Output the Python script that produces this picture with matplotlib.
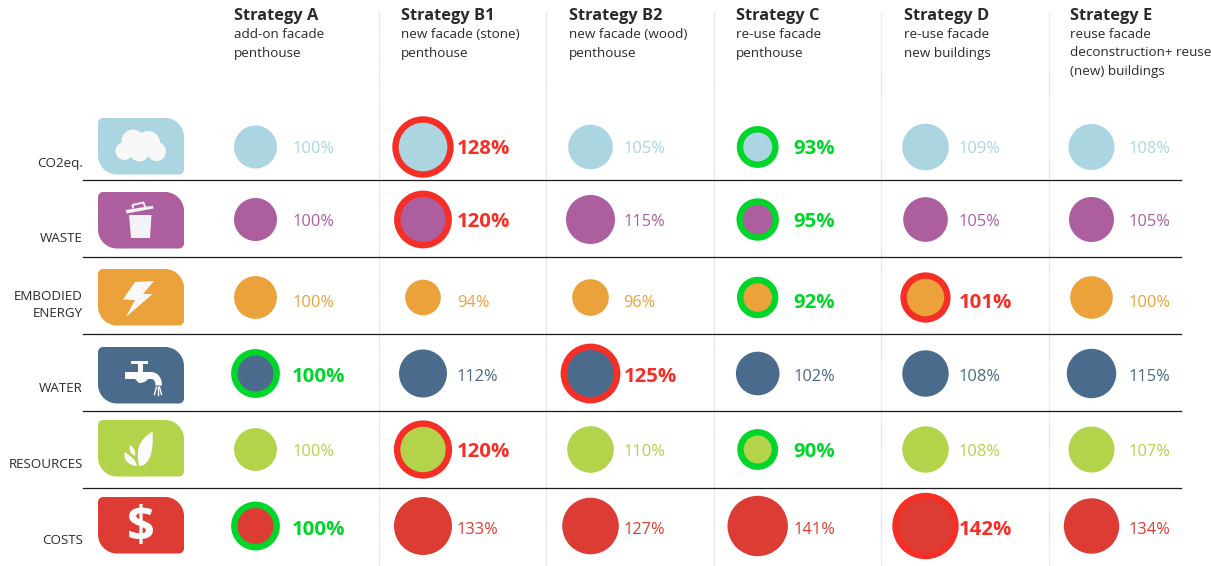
import matplotlib
matplotlib.use('Agg')
import matplotlib.pyplot as plt
from matplotlib.patches import Circle, Ellipse, PathPatch, Polygon, Rectangle
from matplotlib.path import Path

plt.rcParams['font.family'] = ['Open Sans', 'DejaVu Sans']

# data
strategies = ['Strategy A', 'Strategy B1', 'Strategy B2', 'Strategy C', 'Strategy D', 'Strategy E']
subtitles = [
    ['add-on facade', 'penthouse'],
    ['new facade (stone)', 'penthouse'],
    ['new facade (wood)', 'penthouse'],
    ['re-use facade', 'penthouse'],
    ['re-use facade', 'new buildings'],
    ['reuse facade', 'deconstruction+ reuse', '(new) buildings'],
]
categories = ['CO2eq.', 'WASTE', 'EMBODIED\nENERGY', 'WATER', 'RESOURCES', 'COSTS']
co2 = [100, 128, 105, 93, 109, 108]
waste = [100, 120, 115, 95, 105, 105]
energy = [100, 94, 96, 92, 101, 100]
water = [100, 112, 125, 102, 108, 115]
resources = [100, 120, 110, 90, 108, 107]
costs = [100, 133, 127, 141, 142, 134]
values = [co2, waste, energy, water, resources, costs]
# best / worst flag in each row
best = [3, 3, 3, 0, 3, 0]
worst = [1, 1, 4, 2, 1, 4]

# layout, in reference pixels
col_x = [255.5, 423, 590.5, 757.7, 925.5, 1091.5]
head_x = [234, 401.2, 569, 736, 904, 1070.5]
text_x = [292, 456.8, 623.3, 793, 958.7, 1128.7]
row_y = [147, 219.5, 297.5, 373.5, 449.5, 526]
text_y = [149, 222, 303, 377, 452, 530]
label_y = [163, 238, 305, 389, 464, 540]
icon_top = [118, 192, 269, 347, 420, 497]
sep_y = [180, 257, 334, 411, 488]
div_x = [379, 546, 714, 881, 1049]
radii = [
    [21.5, 24.3, 22.3, 14.5, 23.3, 23],
    [21.5, 22.5, 24.5, 14.8, 22.3, 22.5],
    [21.4, 17.8, 18.3, 14.3, 18.7, 21.3],
    [18, 24, 23.5, 21.8, 23.2, 24.7],
    [21.4, 22.7, 23.3, 14, 23.2, 23],
    [18, 29, 28.3, 30.2, 26.8, 27.7],
]
colors = ['#acd5e2', '#ad5e9f', '#eba23b', '#4b6b8c', '#b2d34a', '#dc3c33']
red = '#f52f26'
green = '#00d62a'
dark = '#2b2a2c'

fig = plt.figure(figsize=(12.11, 5.66), dpi=100)
ax = fig.add_axes([0, 0, 1, 1])
ax.set_xlim(0, 1211)
ax.set_ylim(566, 0)
ax.axis('off')


def icon_box(x0, y0, color, w=86, h=56.5, big=19, small=5):
    k = 0.45
    x1, y1 = x0 + w, y0 + h
    verts = [
        (x0 + small, y0),
        (x1 - big, y0), (x1 - big * k, y0), (x1, y0 + big * k), (x1, y0 + big),
        (x1, y1 - small), (x1, y1 - small * k), (x1 - small * k, y1), (x1 - small, y1),
        (x0 + big, y1), (x0 + big * k, y1), (x0, y1 - big * k), (x0, y1 - big),
        (x0, y0 + small), (x0, y0 + small * k), (x0 + small * k, y0), (x0 + small, y0),
    ]
    L, C = Path.LINETO, Path.CURVE4
    codes = [Path.MOVETO, L, C, C, C, L, C, C, C, L, C, C, C, L, C, C, C]
    ax.add_patch(PathPatch(Path(verts, codes), fc=color, ec='none'))


def cloud(x, y):
    for dx, dy, r in [(26.5, 33, 9), (35, 23, 11.5), (50, 25, 12), (58.5, 33.5, 9.5), (41.5, 34, 9.5)]:
        ax.add_patch(Circle((x + dx, y + dy), r, fc='#f8f8f8', ec='none'))
    ax.add_patch(Ellipse((x + 42, y + 30), 30, 14, fc='#f8f8f8', ec='none'))


def trash(x, y):
    body = [(31, 23), (53.5, 23), (52, 46), (33, 46)]
    ax.add_patch(Polygon([(x + a, y + b) for a, b in body], fc='#f3f3f5', ec='none'))
    lid = [(27.7, 18), (55, 13.7), (55.5, 16.5), (28.5, 21.5)]
    ax.add_patch(Polygon([(x + a, y + b) for a, b in lid], fc='#f3f3f5', ec='none'))
    handle = [(35, 15.5), (34.5, 13), (45.5, 10.5), (47, 14.5)]
    ax.plot([x + a for a, b in handle], [y + b for a, b in handle], color='#f3f3f5', lw=1.4)


def bolt(x, y):
    pts = [(37, 13), (56, 12), (45, 25), (54.5, 25), (28, 48), (37, 31), (25, 30.5)]
    ax.add_patch(Polygon([(x + a, y + b) for a, b in pts], fc='#f8f8f6', ec='none'))


def tap(x, y):
    white = '#fbfbfb'
    ax.add_patch(Rectangle((x + 33, y + 14), 17, 2.8, fc=white, ec='none'))
    ax.add_patch(Rectangle((x + 40, y + 16), 4.5, 10, fc=white, ec='none'))
    ax.add_patch(Rectangle((x + 27, y + 25), 12, 7, fc=white, ec='none'))
    verts = [(37, 25), (53, 25), (59, 25), (64, 30), (64, 38.5), (57.5, 38.5), (57.5, 33), (54, 32),
             (50, 32), (47, 36), (41, 36), (37, 32), (37, 25)]
    codes = [Path.MOVETO, Path.LINETO, Path.CURVE4, Path.CURVE4, Path.CURVE4, Path.LINETO,
             Path.CURVE3, Path.CURVE3, Path.LINETO, Path.CURVE3, Path.CURVE3, Path.LINETO, Path.CLOSEPOLY]
    ax.add_patch(PathPatch(Path([(x + a, y + b) for a, b in verts], codes), fc=white, ec='none'))
    for a0, a1 in [(58.5, 56.5), (60, 60), (61.5, 63.5)]:
        ax.plot([x + a0, x + a1], [y + 40, y + 47.5], color=white, lw=1)


def leaf(x, y):
    white = '#fbfbfb'
    shapes = [
        [(41, 46), (38, 30), (40, 20), (54.5, 11.7), (56, 30), (52, 46), (41, 46)],
        [(39, 46), (30, 45), (25, 40), (26.7, 32), (33, 36), (38, 40), (39, 46)],
        [(37, 36), (31, 33), (31, 28), (32, 25), (36, 28), (38, 31), (37, 36)],
    ]
    codes = [Path.MOVETO] + [Path.CURVE4] * 6
    for s in shapes:
        ax.add_patch(PathPatch(Path([(x + a, y + b) for a, b in s], codes), fc=white, ec='none'))


def dollar(x, y):
    ax.text(x + 43, y + 32, '$', color='#fbfbfb', fontsize=35, fontweight='bold', ha='center', va='center')


glyphs = [cloud, trash, bolt, tap, leaf, dollar]

# dividers and row lines
for x in div_x:
    ax.plot([x, x], [11, 566], color='#e0e0e0', lw=0.9, ls=(0, (1.5, 0.7)), zorder=0)
for y in sep_y:
    ax.plot([83, 1181], [y, y], color='#1b1b1b', lw=0.9, zorder=1)

# column heads
for c, name in enumerate(strategies):
    ax.text(head_x[c], 16.5, name, fontsize=11.8, fontweight='bold', color=dark, va='center')
    for j, line in enumerate(subtitles[c]):
        ax.text(head_x[c], 35 + j * 18, line, fontsize=9.7, color=dark, va='center')

# rows
for r, name in enumerate(categories):
    ax.text(83, label_y[r], name, fontsize=9.6, color=dark, ha='right', va='center', linespacing=1.35)
    icon_box(98, icon_top[r], colors[r])
    glyphs[r](98, icon_top[r])
    for c, v in enumerate(values[r]):
        radius = radii[r][c]
        x, y = col_x[c], row_y[r]
        if c == best[r] or c == worst[r]:
            ring = green if c == best[r] else red
            ax.add_patch(Circle((x, y), radius + 3.2, fc=colors[r], ec=ring, lw=4.6, zorder=2))
            ax.text(text_x[c], text_y[r], f'{v}%', color=ring, fontsize=14.7, fontweight='bold', va='center', zorder=3)
        else:
            ax.add_patch(Circle((x, y), radius, fc=colors[r], ec='none', zorder=2))
            ax.text(text_x[c], text_y[r], f'{v}%', color=colors[r], fontsize=11.8, va='center', zorder=3)

fig.savefig('out.png', dpi=100)
plt.close()
